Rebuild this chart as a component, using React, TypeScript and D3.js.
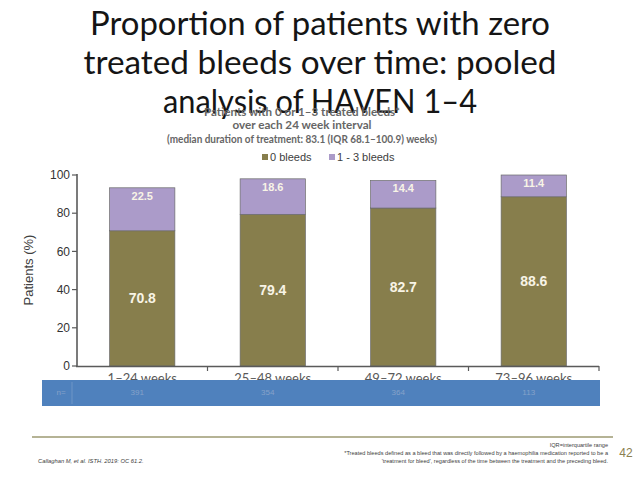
import React from "react";
import * as d3 from "d3";

const categories = ["1–24 weeks", "25–48 weeks", "49–72 weeks", "73–96 weeks"];
const zeroBleeds = [70.8, 79.4, 82.7, 88.6];
const oneToThreeBleeds = [22.5, 18.6, 14.4, 11.4];
const nValues = ["391", "354", "364", "113"];
const yTicks = [0, 20, 40, 60, 80, 100];
const seriesNames = ["0 bleeds", "1 - 3 bleeds"];
const seriesKeys = ["zero", "oneToThree"];

const titleLines = [
  "Proportion of patients with zero",
  "treated bleeds over time: pooled",
  "analysis of HAVEN 1–4",
];
const subtitleLines = [
  "Patients with 0 or 1–3 treated bleeds*",
  "over each 24 week interval",
  "(median duration of treatment: 83.1 (IQR 68.1–100.9) weeks)",
];
const footRight = [
  "IQR=interquartile range",
  "*Treated bleeds defined as a bleed that was directly followed by a haemophilia medication reported to be a",
  "'treatment for bleed', regardless of the time between the treatment and the preceding bleed.",
];
const citation = "Callaghan M, et al. ISTH. 2019: OC 61.2.";

const COLORS = ["#877e4c", "#ab9bc9"];

export default function App() {
  const W = 640, H = 480;
  const x = d3.scaleBand<string>().domain(categories).range([77, 599]).paddingInner(0.5).paddingOuter(0.25);
  const y = d3.scaleLinear().domain([0, 100]).range([366, 175]);
  const rows = categories.map((c, i) => ({ cat: c, zero: zeroBleeds[i], oneToThree: oneToThreeBleeds[i] }));
  const stacked = d3.stack<any>().keys(seriesKeys)(rows);
  const font = "'Liberation Sans', Arial, sans-serif";
  const titleFont = "Lato, 'Open Sans', sans-serif";
  const titleWidths = [460, 473, 314];
  const titleBase = [35, 74, 113];
  const subWidths = [196, 139, 270];
  const subBase = [116, 129, 143];
  const bounds = [0, 1, 2, 3, 4].map((i) => 77 + i * x.step());

  return (
    <svg width={W} height={H} style={{ position: "absolute", left: 0, top: 0, background: "#fff" }}>
      <rect x={0} y={0} width={W} height={H} fill="#fff" />
      {titleLines.map((t, i) => (
        <text key={t} x={320} y={titleBase[i]} textAnchor="middle" fontFamily={titleFont} fontSize={33}
          fill="#151515" textLength={titleWidths[i]} lengthAdjust="spacingAndGlyphs">{t}</text>
      ))}
      {subtitleLines.map((t, i) => (
        <text key={t} x={302} y={subBase[i]} textAnchor="middle" fontFamily={titleFont} fontSize={11}
          fontWeight="bold" fill="#666" textLength={subWidths[i]} lengthAdjust="spacingAndGlyphs">{t}</text>
      ))}
      {/* legend */}
      <g fontFamily={font} fontSize={11} fill="#404040">
        <rect x={262} y={154} width={6} height={6} fill={COLORS[0]} />
        <text x={270} y={161}>{seriesNames[0]}</text>
        <rect x={329} y={154} width={6} height={6} fill={COLORS[1]} />
        <text x={337} y={161}>{seriesNames[1]}</text>
      </g>
      {/* bars */}
      {stacked.map((s, si) => (
        <g key={s.key}>
          {s.map((d, i) => (
            <rect key={i} x={x(categories[i])!} y={y(d[1])} width={x.bandwidth()} height={y(d[0]) - y(d[1])}
              fill={COLORS[si]} stroke="#6a6a6a" strokeWidth={0.7} />
          ))}
        </g>
      ))}
      {stacked.map((s, si) => (
        <g key={"l" + s.key} fontFamily={font} fontWeight="bold" fill="#f8f4e6" textAnchor="middle">
          {s.map((d, i) => {
            const cx = x(categories[i])! + x.bandwidth() / 2;
            const v = si === 0 ? zeroBleeds[i] : oneToThreeBleeds[i];
            const cy = si === 0 ? (y(d[0]) + y(d[1])) / 2 : y(d[1]) + 8;
            return (
              <text key={i} x={cx} y={cy} dy="0.35em" fontSize={si === 0 ? 14 : 11}>{v.toFixed(1)}</text>
            );
          })}
        </g>
      ))}
      {/* y axis */}
      <line x1={77} x2={77} y1={174} y2={367} stroke="#5a5a5a" strokeWidth={1.6} />
      {yTicks.map((t) => (
        <g key={t}>
          <line x1={72} x2={77} y1={y(t)} y2={y(t)} stroke="#5a5a5a" strokeWidth={1.2} />
          <text x={70} y={y(t)} dy="0.35em" textAnchor="end" fontFamily={font} fontSize={12} fill="#333">{t}</text>
        </g>
      ))}
      <text transform={`translate(33,270) rotate(-90)`} textAnchor="middle" fontFamily={font} fontSize={13} fill="#404040">Patients (%)</text>
      {/* x axis */}
      <line x1={76} x2={599} y1={366.5} y2={366.5} stroke="#5a5a5a" strokeWidth={1.6} />
      {bounds.slice(1).map((b, i) => (
        <line key={i} x1={b} x2={b} y1={366} y2={371} stroke="#5a5a5a" strokeWidth={1.2} />
      ))}
      {categories.map((c) => (
        <text key={c} x={x(c)! + x.bandwidth() / 2} y={382.5} textAnchor="middle" fontFamily={titleFont} fontSize={13} fill="#595959">{c}</text>
      ))}
      {/* n band */}
      <rect x={42} y={380} width={558} height={26} fill="#4f81bd" />
      <line x1={72} x2={72} y1={382} y2={404} stroke="#6e95c6" strokeWidth={1} />
      <g fontFamily={font} fontSize={8} fill="#86a1c9" textAnchor="middle">
        <text x={61} y={395}>n=</text>
        {categories.map((c, i) => (
          <text key={c} x={x(c)! + x.bandwidth() / 2 - 5} y={395}>{nValues[i]}</text>
        ))}
      </g>
      {/* footer */}
      <line x1={32} x2={613} y1={437} y2={437} stroke="#9c9a72" strokeWidth={1.3} />
      <text x={626} y={457} textAnchor="middle" fontFamily={font} fontSize={12} fill="#8b8050">42</text>
      <g fontFamily={font} fontSize={5.6} fill="#404040" textAnchor="end">
        {footRight.map((t, i) => (
          <text key={i} x={608} y={447 + i * 8}>{t}</text>
        ))}
      </g>
      <text x={38} y={463} fontFamily={font} fontSize={5.8} fontStyle="italic" fill="#404040">{citation}</text>
    </svg>
  );
}
